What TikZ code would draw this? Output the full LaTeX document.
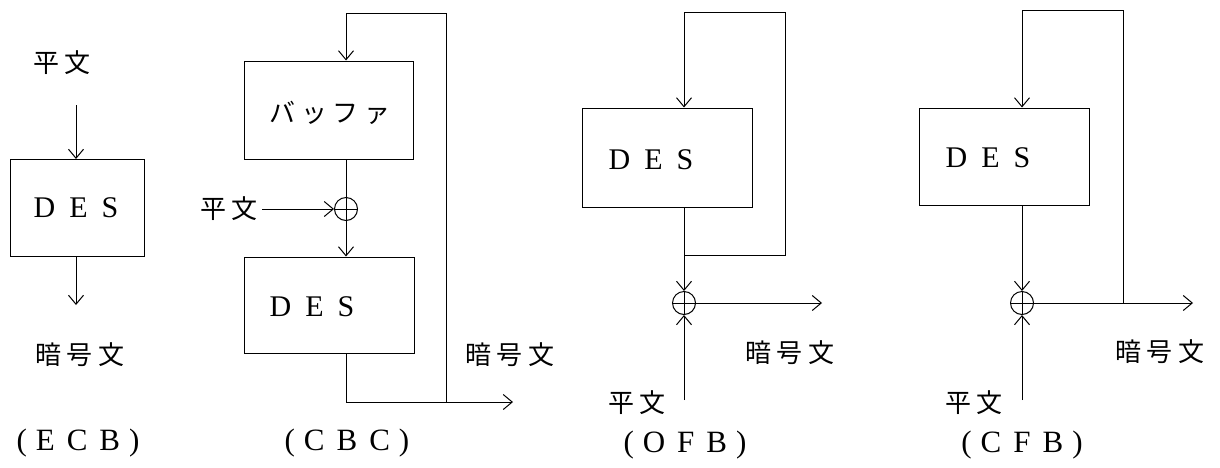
\documentclass[tikz,border=0pt]{standalone}
\usepackage{fontspec}
\newfontfamily\jp[LetterSpace=22]{Noto Sans CJK JP}
\newfontfamily\lat{Liberation Serif}
\usetikzlibrary{arrows.meta}
\begin{document}
\begin{tikzpicture}[x=1pt,y=-1pt,
  ln/.style={line width=1pt},
  arr/.style={line width=1pt,-{Straight Barb[length=9pt,width=15pt,line width=1pt]}},
  desbox/.style={draw,line width=1pt,inner sep=0pt,minimum width=170pt,minimum height=97pt},
  xor/.style={circle,draw,line width=1pt,minimum size=23pt,inner sep=0pt,
    path picture={\draw[line width=1pt] (path picture bounding box.north) -- (path picture bounding box.south)
      (path picture bounding box.west) -- (path picture bounding box.east);}},
  jtxt/.style={font=\jp\fontsize{26}{28}\selectfont,inner sep=0pt},
  ltxt/.style={font=\lat\fontsize{30}{32}\selectfont,inner sep=0pt},
  ptxt/.style={font=\lat\fontsize{31}{33}\selectfont,inner sep=0pt}]
\useasboundingbox (0,0) rectangle (1220,467);
\newcommand{\DESt}{D\hspace{14pt}E\hspace{14pt}S}

% ---------------- ECB ----------------
\node[jtxt] (e_in) at (62,63) {平文};
\coordinate (e_s) at (76,105);
\node[desbox,minimum width=134pt] (e_des) at (77,208) {};
\node[ltxt] (e_t) at (76,208) {\DESt};
\coordinate (e_o) at (76,305);
\node[jtxt] (e_out) at (80,355) {暗号文};
\node[ptxt] (e_cap) at (78,443) {(\hspace{9pt}E\hspace{12pt}C\hspace{12pt}B\hspace{9pt})};
\draw[arr] (e_s) -- (e_s |- e_des.north);
\draw[arr] (e_s |- e_des.south) -- (e_o);

% ---------------- CBC ----------------
\node[desbox,minimum width=169pt,minimum height=98pt] (c_buf) at (328.5,110) {};
\node[jtxt] (c_bt) at (330,113) {バッファ};
\node[xor] (c_x) at (346,209) {};
\node[jtxt] (c_in) at (229,209) {平文};
\node[desbox,minimum height=96pt] (c_des) at (329,305) {};
\node[ltxt] (c_t) at (312,307) {\DESt};
\coordinate (c_j) at (446,402);
\coordinate (c_tr) at (446,13);
\coordinate (c_tl) at (346,13);
\coordinate (c_bl) at (346,402);
\coordinate (c_o) at (513,402);
\node[jtxt] (c_out) at (510,355) {暗号文};
\node[ptxt] (c_cap) at (347,443) {(\hspace{9pt}C\hspace{12pt}B\hspace{12pt}C\hspace{9pt})};
\draw[ln] (c_x |- c_buf.south) -- (c_x.north);
\draw[arr] (c_in.east) ++(4,0) -- (c_x.west);
\draw[arr] (c_x.south) -- (c_x |- c_des.north);
\draw[arr] (c_x |- c_des.south) -- (c_bl) -- (c_o);
\draw[arr] (c_j) -- (c_tr) -- (c_tl) -- (c_tl |- c_buf.north);

% ---------------- OFB ----------------
\node[desbox,minimum height=99pt] (o_des) at (667,157.5) {};
\node[ltxt] (o_t) at (651,160) {\DESt};
\coordinate (o_tl) at (684,12);
\coordinate (o_tr) at (785,12);
\coordinate (o_j) at (684,255);
\node[xor] (o_x) at (684,303) {};
\coordinate (o_o) at (822,303);
\coordinate (o_s) at (684,400);
\node[jtxt] (o_out) at (790,353) {暗号文};
\node[jtxt] (o_in) at (637,403) {平文};
\node[ptxt] (o_cap) at (685,445) {(\hspace{9pt}O\hspace{12pt}F\hspace{12pt}B\hspace{9pt})};
\draw[ln] (o_tl |- o_des.south) -- (o_j);
\draw[arr] (o_j) -| (o_tr) -- (o_tl) -- (o_tl |- o_des.north);
\draw[arr] (o_j) -- (o_x.north);
\draw[arr] (o_s) -- (o_x.south);
\draw[arr] (o_x.east) -- (o_o);

% ---------------- CFB ----------------
\node[desbox,minimum height=97pt] (f_des) at (1004,156.5) {};
\node[ltxt] (f_t) at (988,158) {\DESt};
\coordinate (f_tl) at (1022,10);
\coordinate (f_tr) at (1123,10);
\node[xor] (f_x) at (1022,303) {};
\coordinate (f_j) at (1123,303);
\coordinate (f_o) at (1193,303);
\coordinate (f_s) at (1022,400);
\node[jtxt] (f_out) at (1160,352) {暗号文};
\node[jtxt] (f_in) at (974,403) {平文};
\node[ptxt] (f_cap) at (1022,445) {(\hspace{9pt}C\hspace{12pt}F\hspace{12pt}B\hspace{9pt})};
\draw[arr] (f_tl |- f_des.south) -- (f_x.north);
\draw[arr] (f_x.east) -- (f_o);
\draw[arr] (f_j) -- (f_tr) -- (f_tl) -- (f_tl |- f_des.north);
\draw[arr] (f_s) -- (f_x.south);
\end{tikzpicture}
\end{document}
